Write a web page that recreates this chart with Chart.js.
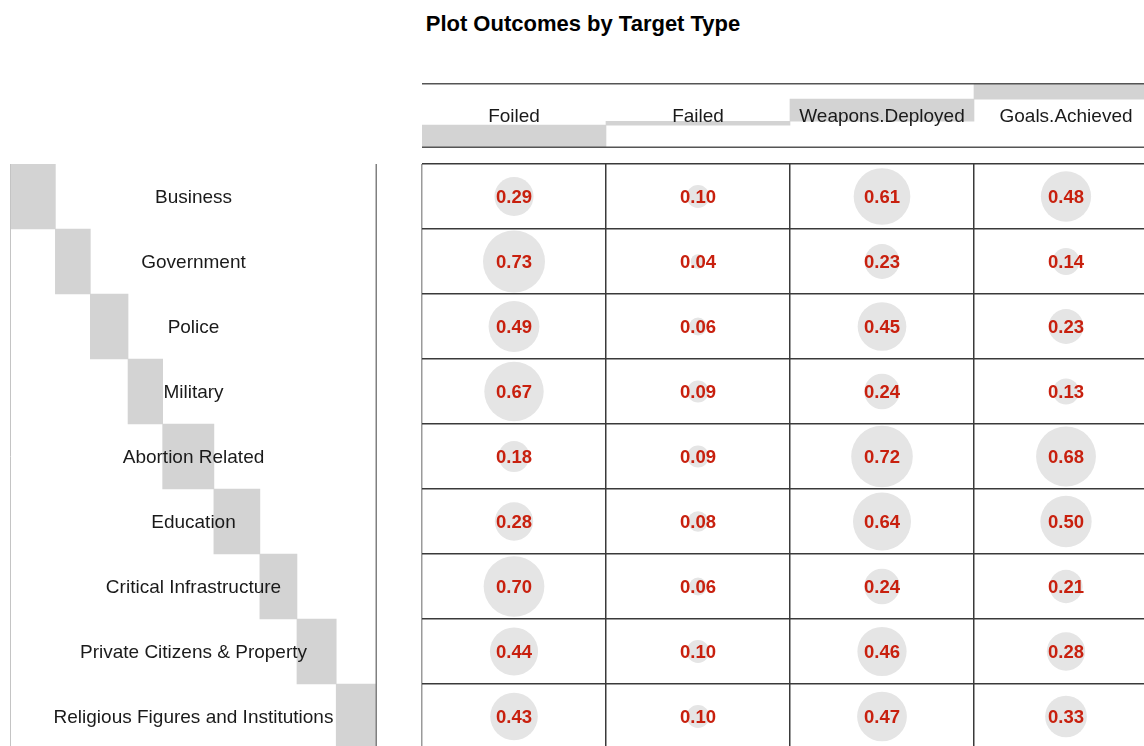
<!DOCTYPE html>
<html>
<head>
<meta charset="utf-8">
<script src="https://cdn.jsdelivr.net/npm/chart.js@4.4.1/dist/chart.umd.min.js"></script>
<style>
  body { margin: 0; width: 1144px; height: 746px; overflow: hidden; background: #fff; position: relative; }
  #titulo { position: absolute; left: 0; top: 11px; width: 1166px; text-align: center; line-height: 21px;
            font: bold 22px "Liberation Sans", Arial, sans-serif; color: #000; }
  canvas { position: absolute; }
  #cabecera { left: 422px; top: 83px; }
  #filas { left: 10px; top: 164px; }
  #tabla { left: 420px; top: 163px; }
</style>
</head>
<body>
<div id="titulo">Plot Outcomes by Target Type</div>
<canvas id="cabecera" width="736" height="65"></canvas>
<canvas id="filas" width="367" height="585"></canvas>
<canvas id="tabla" width="738" height="586"></canvas>
<script>
// categories
let tipos = ['Business', 'Government', 'Police', 'Military', 'Abortion Related', 'Education',
  'Critical Infrastructure', 'Private Citizens & Property', 'Religious Figures and Institutions'];
let resultados = ['Foiled', 'Failed', 'Weapons.Deployed', 'Goals.Achieved'];

// values per outcome, one per target type
let foiled  = [0.29, 0.73, 0.49, 0.67, 0.18, 0.28, 0.70, 0.44, 0.43];
let failed  = [0.10, 0.04, 0.06, 0.09, 0.09, 0.08, 0.06, 0.10, 0.10];
let weapons = [0.61, 0.23, 0.45, 0.24, 0.72, 0.64, 0.24, 0.46, 0.47];
let goals   = [0.48, 0.14, 0.23, 0.13, 0.68, 0.50, 0.21, 0.28, 0.33];

let columnas = [foiled, failed, weapons, goals];

const fuente = '"Liberation Sans", Arial, sans-serif';
const gris = '#d3d3d3';
const radioMax = 31;

// row and column totals (for the margin staircases)
let sumaFilas = tipos.map((t, i) => columnas.reduce((a, col) => a + col[i], 0));
let sumaColumnas = columnas.map(col => col.reduce((a, b) => a + b, 0));
let total = sumaFilas.reduce((a, b) => a + b, 0);

let acumular = (arr) => {
  let inicio = 0;
  return arr.map(v => { let r = [inicio, inicio + v]; inicio += v; return r; });
};

let opcionesBase = {
  responsive: false,
  animation: false,
  events: [],
  layout: { padding: 0, autoPadding: false },
  plugins: { legend: { display: false }, tooltip: { enabled: false }, title: { display: false } }
};

// header: column totals as a vertical staircase
let textoCabecera = {
  id: 'textoCabecera',
  afterDatasetsDraw: (chart) => {
    let ctx = chart.ctx;
    let area = chart.chartArea;
    ctx.save();
    ctx.strokeStyle = '#555';
    ctx.lineWidth = 1.5;
    ctx.beginPath();
    ctx.moveTo(area.left, area.top + 0.75); ctx.lineTo(area.right, area.top + 0.75);
    ctx.moveTo(area.left, area.bottom - 0.75); ctx.lineTo(area.right, area.bottom - 0.75);
    ctx.stroke();
    ctx.fillStyle = '#1a1a1a';
    ctx.font = '19px ' + fuente;
    ctx.textAlign = 'center';
    ctx.textBaseline = 'middle';
    resultados.forEach((r, i) => {
      ctx.fillText(r, chart.scales.x.getPixelForValue(i), (area.top + area.bottom) / 2 + 1);
    });
    ctx.restore();
  }
};

new Chart(document.getElementById('cabecera'), {
  type: 'bar',
  data: {
    labels: resultados,
    datasets: [{ data: acumular(sumaColumnas), backgroundColor: gris, borderWidth: 0,
      barPercentage: 1, categoryPercentage: 1 }]
  },
  options: Object.assign({}, opcionesBase, {
    scales: {
      x: { display: false },
      y: { type: 'linear', min: 0, max: total, display: false }
    }
  }),
  plugins: [textoCabecera]
});

// left margin: row totals as a horizontal staircase
let textoFilas = {
  id: 'textoFilas',
  afterDatasetsDraw: (chart) => {
    let ctx = chart.ctx;
    let area = chart.chartArea;
    ctx.save();
    ctx.lineWidth = 1;
    ctx.strokeStyle = '#c4c4c4';
    ctx.beginPath(); ctx.moveTo(area.left + 0.5, area.top); ctx.lineTo(area.left + 0.5, area.bottom); ctx.stroke();
    ctx.lineWidth = 1.5;
    ctx.strokeStyle = '#808080';
    ctx.beginPath(); ctx.moveTo(area.right - 0.75, area.top); ctx.lineTo(area.right - 0.75, area.bottom); ctx.stroke();
    ctx.fillStyle = '#1a1a1a';
    ctx.font = '19px ' + fuente;
    ctx.textAlign = 'center';
    ctx.textBaseline = 'middle';
    tipos.forEach((t, i) => {
      ctx.fillText(t, (area.left + area.right) / 2, chart.scales.y.getPixelForValue(i) + 1.5);
    });
    ctx.restore();
  }
};

new Chart(document.getElementById('filas'), {
  type: 'bar',
  data: {
    labels: tipos,
    datasets: [{ data: acumular(sumaFilas), backgroundColor: gris, borderWidth: 0,
      barPercentage: 1, categoryPercentage: 1 }]
  },
  options: Object.assign({}, opcionesBase, {
    indexAxis: 'y',
    scales: {
      x: { type: 'linear', min: 0, max: total, display: false },
      y: { display: false }
    }
  }),
  plugins: [textoFilas]
});

// main grid: balloons with area proportional to value
let maximo = Math.max(...columnas.flat());
let puntos = [];
columnas.forEach((col, c) => {
  col.forEach((v, f) => {
    puntos.push({ x: c + 0.5, y: f + 0.5, r: radioMax * Math.sqrt(v / maximo), v: v });
  });
});

let textoValores = {
  id: 'textoValores',
  afterDatasetsDraw: (chart) => {
    let ctx = chart.ctx;
    let meta = chart.getDatasetMeta(0);
    ctx.save();
    ctx.fillStyle = '#c8200e';
    ctx.font = 'bold 18.5px ' + fuente;
    ctx.textAlign = 'center';
    ctx.textBaseline = 'middle';
    meta.data.forEach((el, i) => {
      ctx.fillText(puntos[i].v.toFixed(2), el.x, el.y + 1);
    });
    ctx.restore();
  }
};

// first line of each axis has its own shade (left border grey, top border black)
let ejeTabla = (max, inverso, primerColor) => ({
  type: 'linear', min: 0, max: max, reverse: inverso,
  ticks: { display: false, stepSize: 1 },
  grid: {
    color: (c) => c.index === 0 ? primerColor : '#3a3a3a',
    lineWidth: 1.5,
    drawTicks: false
  },
  border: { display: false }
});

new Chart(document.getElementById('tabla'), {
  type: 'bubble',
  data: {
    datasets: [{ data: puntos, backgroundColor: '#e5e5e5', borderWidth: 0, hoverRadius: 0 }]
  },
  options: Object.assign({}, opcionesBase, {
    clip: false,
    layout: { padding: { left: 2, top: 1, right: 0, bottom: 0 }, autoPadding: false },
    scales: {
      x: ejeTabla(4, false, '#9a9a9a'),
      y: ejeTabla(9, true, '#111')
    }
  }),
  plugins: [textoValores]
});
</script>
</body>
</html>
